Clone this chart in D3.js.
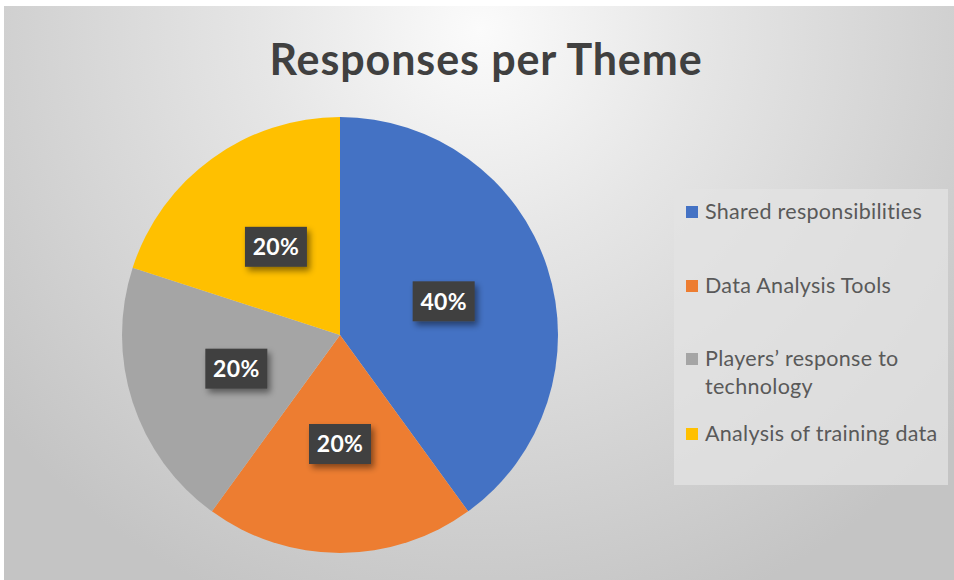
<!DOCTYPE html>
<html>
<head>
<meta charset="utf-8">
<script src="https://cdn.jsdelivr.net/npm/d3@7"></script>
<style>
  html, body { margin: 0; padding: 0; background: #ffffff; }
  svg { display: block; }
</style>
</head>
<body>
<svg id="chart" width="954" height="580"></svg>
<script>
// Theme shares of the responses
const themes = ["Shared responsibilities", "Data Analysis Tools", "Players’ response to technology", "Analysis of training data"];
const shares = [40, 20, 20, 20];
const sliceColors = ["#4472c4", "#ed7d31", "#a5a5a5", "#ffc000"];
const chartTitle = "Responses per Theme";

const W = 954, H = 580;
const svg = d3.select("#chart");
const defs = svg.append("defs");

// soft grey backdrop, lighter toward the top
const bg = defs.append("radialGradient").attr("id", "bg")
  .attr("gradientUnits", "userSpaceOnUse")
  .attr("cx", 480).attr("cy", 30).attr("r", 620);
bg.append("stop").attr("offset", "0%").attr("stop-color", "#fbfbfb");
bg.append("stop").attr("offset", "35%").attr("stop-color", "#e6e6e6");
bg.append("stop").attr("offset", "100%").attr("stop-color", "#c4c4c4");

const shadow = defs.append("filter").attr("id", "shadow")
  .attr("x", "-30%").attr("y", "-30%").attr("width", "170%").attr("height", "170%");
shadow.append("feDropShadow").attr("dx", 3).attr("dy", 4).attr("stdDeviation", 3)
  .attr("flood-color", "#000").attr("flood-opacity", 0.45);

svg.append("rect").attr("x", 4).attr("y", 6).attr("width", W - 4).attr("height", H - 6)
  .attr("fill", "url(#bg)");

// title
svg.append("text").attr("x", 486).attr("y", 75)
  .attr("text-anchor", "middle")
  .attr("font-family", "Lato, 'Open Sans', sans-serif")
  .attr("font-weight", 700).attr("font-size", 43)
  .attr("letter-spacing", 0.9)
  .attr("fill", "#404040").text(chartTitle);

// pie
const cx = 340, cy = 335, R = 218;
const pie = d3.pie().sort(null).value(d => d)(shares);
const arc = d3.arc().innerRadius(0).outerRadius(R);
const labelArc = d3.arc().innerRadius(R * 0.5).outerRadius(R * 0.5);
const total = d3.sum(shares);

const g = svg.append("g").attr("transform", `translate(${cx},${cy})`);
g.selectAll("path.slice").data(pie).join("path")
  .attr("class", "slice")
  .attr("d", arc)
  .attr("fill", (d, i) => sliceColors[i]);

// value tags
const tags = g.selectAll("g.tag").data(pie).join("g")
  .attr("class", "tag")
  .attr("transform", d => `translate(${labelArc.centroid(d)})`);
tags.append("rect")
  .attr("x", -31).attr("y", -20).attr("width", 62).attr("height", 40)
  .attr("fill", "#404040").attr("filter", "url(#shadow)");
tags.append("text")
  .attr("text-anchor", "middle").attr("dy", "0.36em")
  .attr("font-family", "Lato, 'Open Sans', sans-serif")
  .attr("font-weight", 700).attr("font-size", 23)
  .attr("letter-spacing", 0.3)
  .attr("fill", "#ffffff")
  .text(d => Math.round(d.value / total * 100) + "%");

// legend
const legend = svg.append("g");
legend.append("rect").attr("x", 674).attr("y", 189).attr("width", 274).attr("height", 296)
  .attr("fill", "#e3e3e3").attr("opacity", 0.75);

const legendFont = "Lato, 'Open Sans', sans-serif";
const legendSize = 21.5;
const legendSpacing = 0.3;
const rowBase = [219, 293, 366, 441];
const maxTextW = 240;

function wrapLines(label) {
  const probe = svg.append("text").attr("font-family", legendFont)
    .attr("font-size", legendSize).attr("letter-spacing", legendSpacing);
  const words = label.split(" ");
  const lines = [];
  let cur = "";
  for (const w of words) {
    const test = cur ? cur + " " + w : w;
    probe.text(test);
    if (probe.node().getComputedTextLength() > maxTextW && cur) {
      lines.push(cur); cur = w;
    } else cur = test;
  }
  lines.push(cur);
  probe.remove();
  return lines;
}

themes.forEach((t, i) => {
  const y = rowBase[i];
  legend.append("rect").attr("x", 686).attr("y", y - 13).attr("width", 12).attr("height", 12)
    .attr("fill", sliceColors[i]);
  const lines = wrapLines(t);
  const txt = legend.append("text")
    .attr("font-family", legendFont).attr("font-size", legendSize)
    .attr("letter-spacing", legendSpacing)
    .attr("fill", "#595959");
  lines.forEach((ln, k) => {
    txt.append("tspan").attr("x", 705).attr("y", y + k * 28).text(ln);
  });
});
</script>
</body>
</html>
